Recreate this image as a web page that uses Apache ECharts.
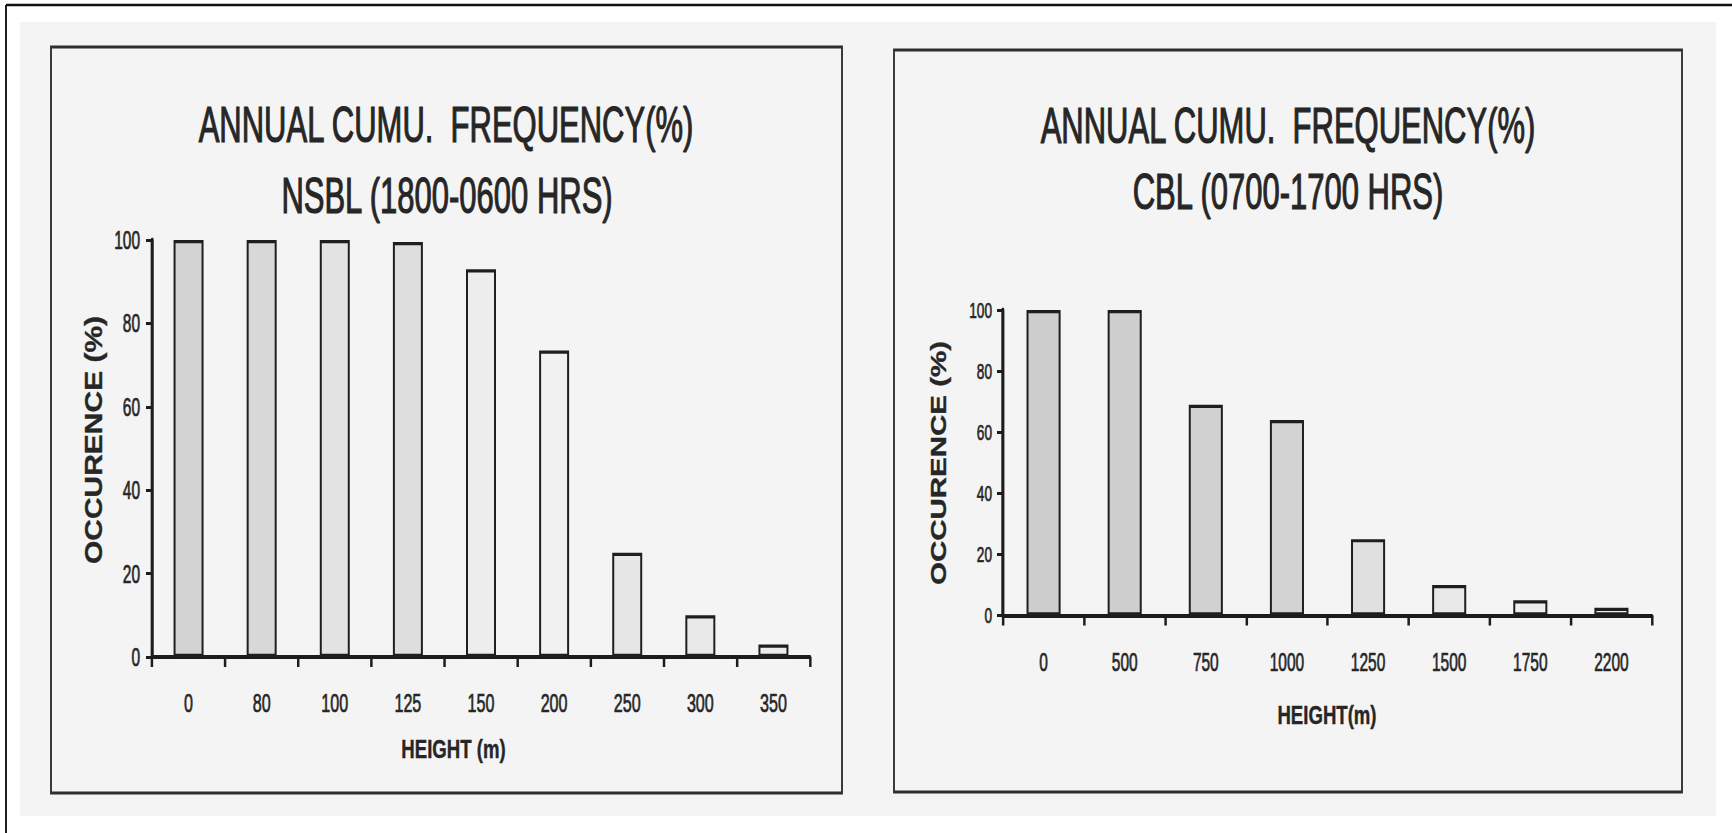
<!DOCTYPE html>
<html>
<head>
<meta charset="utf-8">
<title>Annual cumulative frequency of boundary-layer height</title>
<script src="https://cdn.jsdelivr.net/npm/echarts@6/dist/echarts.min.js"></script>
<style>
  html, body { margin: 0; padding: 0; background: #ffffff; overflow: hidden; }
  /* The figure is laid out on a wider canvas and compressed horizontally,
     giving the tall, narrow lettering of the printed plot. */
  #chart { width: 2794px; height: 833px; transform: scaleX(0.62); transform-origin: 0 0; }
</style>
</head>
<body>
<div id="chart"></div>
<script>
// ---- data -------------------------------------------------------------
const nsblHeights = ['0', '80', '100', '125', '150', '200', '250', '300', '350'];
const nsblOccurrence = [100, 100, 100, 99.5, 93, 73.5, 25, 10, 3];

const cblHeights = ['0', '500', '750', '1000', '1250', '1500', '1750', '2200'];
const cblOccurrence = [100, 100, 69, 64, 25, 10, 5, 2.5];

const occurrenceTicks = [0, 20, 40, 60, 80, 100];

const nsblTitle = ['ANNUAL CUMU.  FREQUENCY(%)', 'NSBL (1800-0600 HRS)'];
const cblTitle = ['ANNUAL CUMU.  FREQUENCY(%)', 'CBL (0700-1700 HRS)'];
const yAxisTitle = 'OCCURENCE (%)';
const xAxisTitles = ['HEIGHT (m)', 'HEIGHT(m)'];

// ---- styles -----------------------------------------------------------
const nsblShade = ['#d3d3d3', '#d8d8d8', '#e3e3e3', '#dedede', '#ededed', '#f1f1f1', '#e6e6e6', '#e9e9e9', '#ececec'];
const cblShade = ['#cdcdcd', '#cecece', '#d1d1d1', '#d3d3d3', '#e0e0e0', '#e8e8e8', '#eeeeee', '#efefef'];

const S = 0.62;                 // horizontal compression of the page
const sx = v => v / S;          // page x (px) -> chart x
const FONT = '"Liberation Sans", Arial, Helvetica, sans-serif';
const INK = '#262626';
const LINE = '#1c1c1c';

const tickStep = occurrenceTicks[1] - occurrenceTicks[0];

function valueAxis(gridIndex, labelSize, labelGap) {
  return {
    type: 'value', gridIndex,
    min: occurrenceTicks[0], max: occurrenceTicks[occurrenceTicks.length - 1], interval: tickStep,
    splitLine: { show: false },
    axisLine: { show: true, lineStyle: { color: LINE, width: 5 } },
    axisTick: { show: true, length: sx(6), lineStyle: { color: LINE, width: 3 } },
    axisLabel: {
      fontSize: labelSize, fontFamily: FONT, color: INK, margin: sx(labelGap),
      textBorderColor: INK, textBorderWidth: 0.7
    }
  };
}

function categoryAxis(gridIndex, cats, labelSize, labelGap) {
  return {
    type: 'category', gridIndex, data: cats,
    axisLine: { show: true, lineStyle: { color: LINE, width: 4 } },
    axisTick: { show: true, length: 10, lineStyle: { color: LINE, width: 4 } },
    axisLabel: {
      fontSize: labelSize, fontFamily: FONT, color: INK, margin: labelGap, interval: 0,
      textBorderColor: INK, textBorderWidth: 0.7
    }
  };
}

function barSeries(idx, values, shades, width) {
  return {
    type: 'bar', xAxisIndex: idx, yAxisIndex: idx, barWidth: width,
    itemStyle: { borderColor: '#1e1e1e', borderWidth: 3.2 },
    data: values.map((v, i) => ({ value: v, itemStyle: { color: shades[i] } })),
    silent: true
  };
}

function text(t, x, y, size, opts) {
  const o = opts || {};
  return {
    type: 'text', x: sx(x), y: y, silent: true,
    rotation: o.rotation || 0, scaleX: o.scaleX || 1, scaleY: o.scaleY || 1,
    style: {
      text: t, fontSize: size, fontFamily: FONT, fontWeight: o.bold ? 'bold' : 'normal',
      fill: INK, stroke: INK, lineWidth: o.weight || 0.9,
      textAlign: 'center', align: 'center',
      textVerticalAlign: 'middle', verticalAlign: 'middle'
    }
  };
}

function box(x0, y0, x1, y1) {
  return {
    type: 'rect', silent: true, z: -5,
    shape: { x: sx(x0), y: y0, width: sx(x1 - x0), height: y1 - y0 },
    style: { fill: 'none', stroke: '#2e2e2e', lineWidth: 3 }
  };
}

const option = {
  animation: false,
  backgroundColor: '#ffffff',
  grid: [
    { left: sx(152), top: 240, width: sx(658), height: 417 },
    { left: sx(1003), top: 310, width: sx(649), height: 305.5 }
  ],
  xAxis: [
    categoryAxis(0, nsblHeights, 26, 33),
    categoryAxis(1, cblHeights, 25, 34)
  ],
  yAxis: [
    valueAxis(0, 25, 12),
    valueAxis(1, 22, 11)
  ],
  series: [
    barSeries(0, nsblOccurrence, nsblShade, '41%'),
    barSeries(1, cblOccurrence, cblShade, '42%')
  ],
  graphic: [
    // scanned sheet
    { type: 'rect', silent: true, z: -10,
      shape: { x: sx(20), y: 22, width: sx(1696), height: 794 },
      style: { fill: '#f4f4f4' } },
    // outer frame (top and left edges)
    { type: 'line', silent: true, shape: { x1: sx(6), y1: 5, x2: sx(1732), y2: 5 },
      style: { stroke: '#111111', lineWidth: 2.5 } },
    { type: 'line', silent: true, shape: { x1: sx(6), y1: 5, x2: sx(6), y2: 833 },
      style: { stroke: '#111111', lineWidth: 3 } },
    // panel frames
    box(51, 47, 842, 793),
    box(894, 50, 1682, 792),
    // panel titles
    text(nsblTitle[0], 446, 124.5, 50, { weight: 1.2 }),
    text(nsblTitle[1], 447, 196, 50, { weight: 1.2 }),
    text(cblTitle[0], 1288, 125.5, 50, { weight: 1.2 }),
    text(cblTitle[1], 1288, 192, 50, { weight: 1.2 }),
    // axis names
    text(xAxisTitles[0], 453.5, 749, 25, { bold: true, scaleX: 1.2, weight: 0.4 }),
    text(xAxisTitles[1], 1327, 715, 25, { bold: true, scaleX: 1.2, weight: 0.4 }),
    text(yAxisTitle, 94.5, 440, 30, { bold: true, rotation: Math.PI / 2, scaleY: 1.27, weight: 0.4 }),
    text(yAxisTitle, 938, 463, 29.5, { bold: true, rotation: Math.PI / 2, scaleY: 1.22, weight: 0.4 })
  ]
};

const chart = echarts.init(document.getElementById('chart'), null, { renderer: 'svg' });
chart.setOption(option);
</script>
</body>
</html>
